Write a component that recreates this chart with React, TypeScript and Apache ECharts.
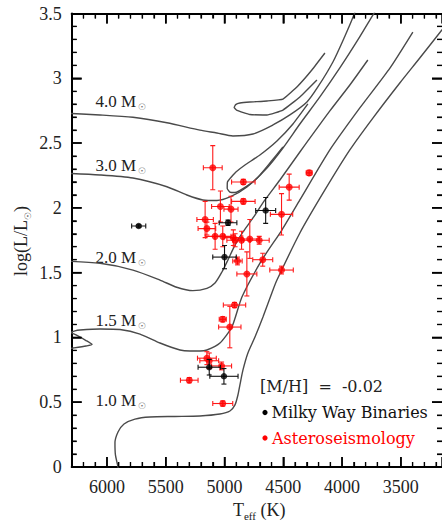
import React, { useEffect, useRef } from "react";
import * as echarts from "echarts";

const SERIF = "Liberation Serif, serif";
const LEGEND_FONT = "DejaVu Serif, serif";

// Axis ranges
const xMin = 3150;
const xMax = 6300;
const yMin = 0;
const yMax = 3.5;
const xLabelValues = [3500, 4000, 4500, 5000, 5500, 6000];
const yLabelStep = 0.5;
const xMinorStep = 100;
const yMinorStep = 0.1;

const GRID = { left: 71.7, top: 13.5, right: 0, bottom: 58 };
const W = 442;
const H = 525;

// Evolutionary tracks [Teff, log(L/Lsun)]
const track10: number[][] = [
  [5900, -0.05], [5906, 0], [5928, 0.093], [5932, 0.185], [5906, 0.27], [5855, 0.332],
  [5762, 0.37], [5634, 0.386], [5422, 0.39], [5209, 0.394], [5039, 0.409], [4954, 0.432],
  [4911, 0.479], [4886, 0.556], [4869, 0.633], [4843, 0.749], [4801, 0.88], [4741, 1.003],
  [4673, 1.158], [4588, 1.366], [4554, 1.443], [4359, 1.806], [4146, 2.138], [3934, 2.447],
  [3738, 2.693], [3509, 2.964], [3339, 3.157], [3151, 3.373], [3066, 3.473],
];
const track15: number[][] = [
  [6400, 0.903], [6289, 0.918], [6178, 0.934], [6127, 0.945], [6178, 0.976], [6263, 1.019],
  [6306, 1.038], [6272, 1.051], [6229, 1.057], [6059, 1.065], [5889, 1.061], [5719, 1.026],
  [5549, 0.957], [5379, 0.903], [5294, 0.895], [5209, 0.895], [5150, 0.903], [5039, 0.957],
  [4937, 1.081], [4852, 1.312], [4682, 1.598], [4512, 1.829], [4359, 2.061], [4104, 2.447],
  [3849, 2.771], [3593, 3.079], [3398, 3.357],
];
const track20: number[][] = [
  [6400, 1.59], [6059, 1.572], [5779, 1.52], [5549, 1.443], [5407, 1.387], [5269, 1.361],
  [5150, 1.379], [5081, 1.42], [5022, 1.505], [4971, 1.598], [4911, 1.713], [4843, 1.814],
  [4758, 1.922], [4656, 2.061], [4529, 2.215], [4359, 2.431], [4104, 2.748], [3934, 2.948],
  [3781, 3.141],
];
const track30: number[][] = [
  [6400, 2.269], [6059, 2.254], [5779, 2.23], [5490, 2.163], [5320, 2.099], [5184, 2.061],
  [5065, 2.057], [4954, 2.084], [4809, 2.161], [4639, 2.308], [4503, 2.462], [4359, 2.647],
  [4189, 2.856], [4019, 3.08], [3866, 3.296], [3738, 3.488], [3670, 3.589],
];
const loop30: number[][] = [
  [4291, 2.802], [4418, 2.647], [4554, 2.516], [4699, 2.408], [4826, 2.331], [4903, 2.277],
  [4940, 2.24], [4975, 2.2], [4977, 2.15], [4955, 2.122], [4911, 2.118], [4826, 2.158],
  [4724, 2.228], [4614, 2.346], [4503, 2.47],
];
const track40: number[][] = [
  [6400, 2.732], [6059, 2.717], [5779, 2.699], [5490, 2.657], [5209, 2.6], [5065, 2.578],
  [4928, 2.555], [4758, 2.57], [4588, 2.64], [4444, 2.717], [4299, 2.817], [4206, 2.933],
  [4078, 3.126], [3979, 3.319], [3900, 3.488], [3866, 3.589],
];
const loop40: number[][] = [
  [4146, 3.195], [4257, 3.064], [4376, 2.941], [4503, 2.84], [4639, 2.825], [4784, 2.817],
  [4869, 2.809], [4905, 2.797], [4918, 2.775], [4894, 2.752], [4784, 2.72], [4639, 2.717],
  [4503, 2.755], [4359, 2.856], [4214, 2.987],
];

// Asteroseismology stars
const astTeff = [5100, 4840, 5035, 4840, 4945, 5165, 5150, 5080, 5015, 4925, 4910, 4855, 4785, 4705, 4890, 4810, 4675, 4515, 4515, 4450, 4280, 4915, 5015, 4955, 5130, 5150, 5025, 5300, 5015];
const astLogL = [2.31, 2.2, 2.01, 2.05, 1.99, 1.91, 1.84, 1.78, 1.78, 1.77, 1.75, 1.75, 1.76, 1.75, 1.59, 1.49, 1.6, 1.52, 1.95, 2.16, 2.27, 1.25, 1.14, 1.08, 0.82, 0.84, 0.78, 0.67, 0.49];
const astTeffErr = [80, 100, 75, 100, 60, 70, 75, 80, 70, 80, 70, 75, 80, 85, 40, 85, 85, 100, 95, 85, 25, 95, 30, 95, 80, 80, 85, 75, 85];
const astLogLErr = [0.17, 0.02, 0.12, 0.02, 0.1, 0.14, 0.05, 0.1, 0.08, 0.06, 0.05, 0.07, 0.15, 0.03, 0.03, 0.17, 0.05, 0.03, 0.16, 0.1, 0.02, 0.02, 0.02, 0.16, 0.06, 0.05, 0.03, 0.02, 0.02];

// Milky Way binaries
const binTeff = [5730, 4970, 5000, 4650, 5130, 5005];
const binLogL = [1.86, 1.885, 1.62, 1.98, 0.77, 0.7];
const binTeffErr = [60, 75, 100, 85, 95, 120];
const binLogLErr = [0.01, 0.02, 0.09, 0.1, 0.06, 0.06];

const massLabels = ["4.0", "3.0", "2.0", "1.5", "1.0"];

// tick positions
function xTickValues(major: boolean) {
  const out: number[] = [];
  for (let t = 3200; t < xMax; t += xMinorStep) {
    if (xLabelValues.includes(t) === major) out.push(t);
  }
  return out;
}
function yTickValues(major: boolean) {
  const out: number[] = [];
  const n = Math.round((yMax - yMin) / yMinorStep);
  for (let i = 1; i < n; i++) {
    const v = Math.round((yMin + i * yMinorStep) * 10) / 10;
    const r = v / yLabelStep;
    const isMajor = Math.abs(r - Math.round(r)) < 1e-6;
    if (isMajor === major) out.push(v);
  }
  return out;
}

const plotW = W - GRID.left - GRID.right;
const plotH = H - GRID.top - GRID.bottom;
const pxToT = (p: number) => (p * (xMax - xMin)) / plotW;
const pxToL = (p: number) => (p * (yMax - yMin)) / plotH;

// segment items: [x, y, dx, dy] in data units
function tickItems(major: boolean) {
  const len = major ? 10 : 5;
  const d: number[][] = [];
  xTickValues(major).forEach((t) => {
    d.push([t, yMin, 0, pxToL(len)]);
    d.push([t, yMax, 0, -pxToL(len)]);
  });
  yTickValues(major).forEach((v) => {
    d.push([xMax, v, -pxToT(len), 0]);
    d.push([xMin, v, pxToT(len), 0]);
  });
  return d;
}

function tickSegSeries(major: boolean) {
  const w = major ? 1.5 : 1.2;
  return {
    type: "custom",
    coordinateSystem: "cartesian2d",
    z: 3,
    silent: true,
    clip: true,
    data: tickItems(major),
    encode: { x: 0, y: 1 },
    renderItem: (_p: any, api: any) => {
      const x = api.value(0);
      const y = api.value(1);
      const dx = api.value(2);
      const dy = api.value(3);
      const a = api.coord([x, y]);
      const b = api.coord([x + dx, y + dy]);
      return {
        type: "group",
        children: [{ type: "line", shape: { x1: a[0], y1: a[1], x2: b[0], y2: b[1] }, style: { stroke: "#000", lineWidth: w } }],
      };
    },
  };
}

function errorSeries(teff: number[], logL: number[], dT: number[], dL: number[], color: string, z: number) {
  return {
    type: "custom",
    coordinateSystem: "cartesian2d",
    z,
    silent: true,
    clip: true,
    data: teff.map((t, i) => [t, logL[i], dT[i], dL[i]]),
    encode: { x: 0, y: 1 },
    renderItem: (_p: any, api: any) => {
      const t = api.value(0);
      const l = api.value(1);
      const et = api.value(2);
      const el = api.value(3);
      const a = api.coord([t + et, l]);
      const b = api.coord([t - et, l]);
      const c = api.coord([t, l + el]);
      const d = api.coord([t, l - el]);
      const cap = 2.5;
      const st = { stroke: color, lineWidth: 1.1 };
      const children: any[] = [];
      const ln = (x1: number, y1: number, x2: number, y2: number) =>
        children.push({ type: "line", shape: { x1, y1, x2, y2 }, style: st });
      ln(a[0], a[1], b[0], b[1]);
      ln(a[0], a[1] - cap, a[0], a[1] + cap);
      ln(b[0], b[1] - cap, b[0], b[1] + cap);
      ln(c[0], c[1], d[0], d[1]);
      ln(c[0] - cap, c[1], c[0] + cap, c[1]);
      ln(d[0] - cap, d[1], d[0] + cap, d[1]);
      return { type: "group", children };
    },
  };
}

function trackSeries(data: number[][], smooth: number) {
  return {
    type: "line",
    data,
    showSymbol: false,
    symbol: "none",
    smooth,
    silent: true,
    z: 2,
    lineStyle: { color: "#4a4a4a", width: 1.4 },
  };
}

function massText(label: string, x: number, y: number) {
  return {
    type: "text",
    x,
    y,
    silent: true,
    style: {
      text: `{a|${label} M}{s|☉}`,
      x: 0,
      y: 0,
      align: "left",
      textAlign: "left",
      verticalAlign: "middle",
      textVerticalAlign: "middle",
      rich: {
        a: { fontSize: 17, fontFamily: SERIF, fill: "#222", lineHeight: 20, verticalAlign: "middle" },
        s: { fontSize: 9, fontFamily: "DejaVu Sans, sans-serif", fill: "#777", lineHeight: 20, verticalAlign: "bottom", padding: [0, 0, 0, 2] },
      },
    },
  };
}

function textGraphics() {
  const massY = [101, 165, 257, 320.5, 400];
  const plain = (text: string, x: number, y: number, fill: string) => ({
    type: "text",
    x,
    y,
    silent: true,
    style: {
      text,
      font: `16px ${LEGEND_FONT}`,
      fill,
      align: "left",
      textAlign: "left",
      verticalAlign: "middle",
      textVerticalAlign: "middle",
    },
  });
  return [
    ...massLabels.map((m, i) => massText(m, 95.5, massY[i])),
    plain("[M/H]  =  -0.02", 260, 386, "#222"),
    { type: "circle", silent: true, shape: { cx: 265, cy: 412.5, r: 2.6 }, style: { fill: "#000" } },
    plain("Milky Way Binaries", 271.5, 412.5, "#111"),
    { type: "circle", silent: true, shape: { cx: 265, cy: 438, r: 2.6 }, style: { fill: "#ff0000" } },
    plain("Asteroseismology", 272, 438, "#ff0000"),
    {
      type: "text",
      x: 233,
      y: 510,
      silent: true,
      style: {
        text: "{a|T}{s|eff}{a| (K)}",
        x: 0,
        y: 0,
        align: "left",
        textAlign: "left",
        verticalAlign: "middle",
        textVerticalAlign: "middle",
        rich: {
          a: { fontSize: 18, fontFamily: SERIF, fill: "#222", lineHeight: 22, verticalAlign: "middle" },
          s: { fontSize: 11, fontFamily: SERIF, fill: "#222", lineHeight: 22, verticalAlign: "bottom" },
        },
      },
    },
    {
      type: "text",
      x: 21,
      y: 241,
      rotation: Math.PI / 2,
      silent: true,
      style: {
        text: "{a|log(L/L}{s|☉}{a|)}",
        x: 0,
        y: 0,
        align: "center",
        textAlign: "center",
        verticalAlign: "middle",
        textVerticalAlign: "middle",
        rich: {
          a: { fontSize: 18, fontFamily: SERIF, fill: "#222", lineHeight: 22, verticalAlign: "middle" },
          s: { fontSize: 9, fontFamily: "DejaVu Sans, sans-serif", fill: "#555", lineHeight: 22, verticalAlign: "bottom" },
        },
      },
    },
  ];
}

function axisTickCfg() {
  return {
    axisTick: { show: true, inside: true, length: 10, lineStyle: { color: "#000", width: 1.5 } },
    minorTick: { show: true, splitNumber: 5, length: 5, lineStyle: { color: "#000", width: 1.2 } },
    splitLine: { show: false },
  };
}

export default function App() {
  const ref = useRef<HTMLDivElement>(null);
  useEffect(() => {
    if (!ref.current) return;
    const chart = echarts.init(ref.current, null, { renderer: "svg" });
    chart.setOption({
      animation: false,
      backgroundColor: "#fff",
      grid: { ...GRID, containLabel: false },
      xAxis: [
        {
          type: "value",
          position: "bottom",
          inverse: true,
          min: xMin,
          max: xMax,
          splitNumber: 6,
          ...axisTickCfg(),
          axisLine: { show: true, onZero: false, lineStyle: { color: "#000", width: 2 } },
          axisLabel: {
            show: true,
            margin: 11,
            fontSize: 18,
            fontFamily: SERIF,
            color: "#222",
            showMinLabel: false,
            showMaxLabel: false,
            formatter: (v: number) => (xLabelValues.includes(Math.round(v)) ? String(Math.round(v)) : ""),
          },
        },
        {
          type: "value",
          position: "top",
          inverse: true,
          min: xMin,
          max: xMax,
          splitNumber: 6,
          ...axisTickCfg(),
          axisLine: { show: true, onZero: false, lineStyle: { color: "#000", width: 2 } },
          axisLabel: { show: false },
        },
      ],
      yAxis: [
        {
          type: "value",
          position: "left",
          min: yMin,
          max: yMax,
          interval: yLabelStep,
          ...axisTickCfg(),
          axisLine: { show: true, onZero: false, lineStyle: { color: "#000", width: 2 } },
          axisLabel: { show: true, margin: 10, fontSize: 18, fontFamily: SERIF, color: "#222" },
        },
        {
          type: "value",
          position: "right",
          min: yMin,
          max: yMax,
          interval: yLabelStep,
          ...axisTickCfg(),
          axisLine: { show: false, onZero: false },
          axisLabel: { show: false },
        },
      ],
      series: [
        trackSeries(track10, 0.25),
        trackSeries(track15, 0.2),
        trackSeries(track20, 0.25),
        trackSeries(track30, 0.25),
        trackSeries(loop30, 0.12),
        trackSeries(track40, 0.25),
        trackSeries(loop40, 0.12),
        tickSegSeries(true),
        tickSegSeries(false),
        errorSeries(astTeff, astLogL, astTeffErr, astLogLErr, "#ff1a1a", 3),
        {
          type: "scatter",
          z: 4,
          silent: true,
          symbolSize: 7,
          itemStyle: { color: "#ff0000" },
          data: astTeff.map((t, i) => [t, astLogL[i]]),
        },
        errorSeries(binTeff, binLogL, binTeffErr, binLogLErr, "#111", 5),
        {
          type: "scatter",
          z: 6,
          silent: true,
          symbolSize: 6.5,
          itemStyle: { color: "#000" },
          data: binTeff.map((t, i) => [t, binLogL[i]]),
        },
      ],
      graphic: textGraphics(),
    });
    return () => chart.dispose();
  }, []);
  return (
    <div
      ref={ref}
      style={{ position: "fixed", left: 0, top: 0, width: W, height: H, background: "#fff" }}
    />
  );
}
